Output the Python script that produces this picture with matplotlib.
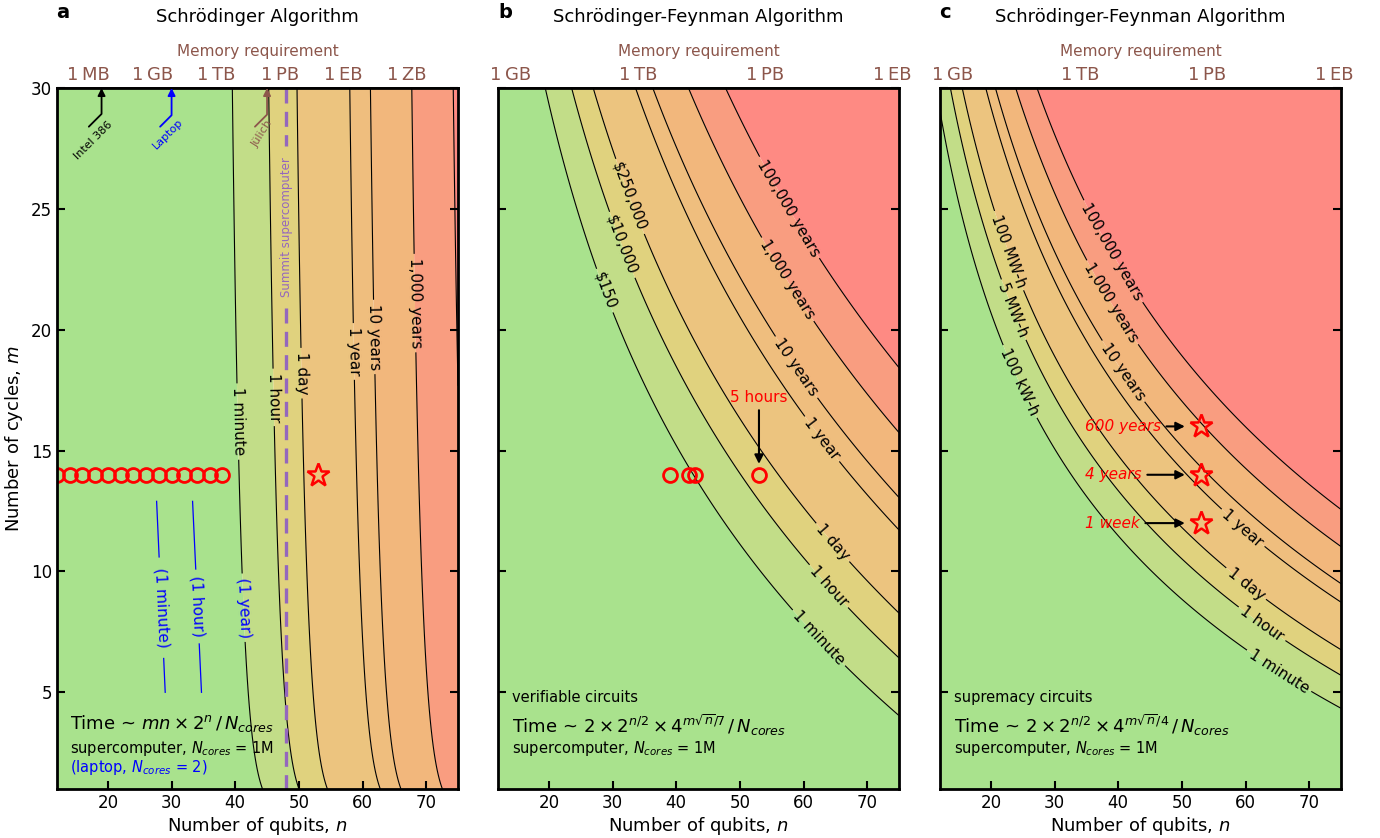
import numpy as np
import matplotlib
matplotlib.use("Agg")
import matplotlib.pyplot as plt

# ------------------------------------------------------------------ data
MINUTE, HOUR, DAY, YEAR = 60.0, 3600.0, 86400.0, 3.156e7
contour_times = [MINUTE, HOUR, DAY, YEAR, 10 * YEAR, 1e3 * YEAR, 1e5 * YEAR]
contour_labels = ["1 minute", "1 hour", "1 day", "1 year", "10 years",
                  "1,000 years", "100,000 years"]
band_colors = ["#a9e28d", "#c2dd88", "#e0d27e", "#ecc47f", "#efbe7e",
               "#f2b77c", "#f99d80", "#fe8a83"]

n_cores = 1e6
# seconds per elementary operation per core (calibrated from contour positions)
op_time_a = 6.3e-8
op_time_b = 1.52e-7
op_time_c = 3.4e-10

n_range = (12, 75)
m_range = (1, 30)

# memory axis (top)
mem_n_a = [17, 27, 37, 47, 57, 67]
mem_lab_a = ["1\u2009MB", "1\u2009GB", "1\u2009TB", "1\u2009PB", "1\u2009EB", "1\u2009ZB"]
mem_n_bc = [14, 34, 54, 74]
mem_lab_bc = ["1\u2009GB", "1\u2009TB", "1\u2009PB", "1\u2009EB"]

# contour label positions (n, m)
clab_a = [("1 minute", 40.3, 16.2), ("1 hour", 45.8, 17.2), ("1 day", 50.1, 18.2),
          ("1 year", 58.3, 19.1), ("10 years", 61.6, 19.7), ("1,000 years", 67.9, 21.1)]
clab_b = [("100,000 years", 57.4, 25.0), ("1,000 years", 57.0, 22.0),
          ("10 years", 58.6, 18.4), ("1 year", 63.0, 15.5), ("1 day", 64.6, 11.2),
          ("1 hour", 63.8, 9.35), ("1 minute", 62.2, 7.2)]
clab_c = [("100,000 years", 38.9, 23.2), ("1,000 years", 38.9, 21.1),
          ("10 years", 40.9, 18.3), ("1 year", 59.6, 11.8), ("1 day", 60.1, 9.5),
          ("1 hour", 62.5, 7.8), ("1 minute", 65.3, 5.9)]
cost_labels_b = [("$150", "1 minute", 28.6, 21.6), ("$10,000", "1 hour", 31.4, 23.5),
                 ("$250,000", "1 day", 32.6, 25.5)]
energy_labels_c = [("100 kW-h", "1 minute", 24.1, 17.8), ("5 MW-h", "1 hour", 23.3, 20.8),
                   ("100 MW-h", "1 day", 22.1, 23.2)]

# laptop (blue) lines in panel a
laptop_labels = ["(1 minute)", "(1 hour)"]
laptop_n_upper = [27.65, 33.3]
laptop_n_lower = [29.0, 34.7]
laptop_m_ends = [12.9, 5.0]
laptop_gap = [(10.6, 6.4), (10.1, 7.0)]
# laptop 1-year line coincides with the supercomputer 1-minute contour
laptop_year_label = ("(1 year)", "1 minute", 41.3, 8.5)

# hardware memory markers in panel a
hw_labels = ["Intel 386", "Laptop", "J\u00fclich"]
hw_tip_n = [19.0, 30.0, 45.0]
hw_tail_n = [17.0, 28.2, 43.1]
hw_tail_m = [28.4, 28.4, 28.4]
hw_text_n = [17.7, 29.4, 44.2]
hw_text_m = [27.85, 28.1, 28.1]
hw_rot = [45, 45, 58]
hw_colors = ["black", "blue", "#8c564b"]

summit_n = 48
summit_gap = (27.6, 20.9)

# experiments
circ_n_a = [12, 14, 16, 18, 20, 22, 24, 26, 28, 30, 32, 34, 36, 38]
circ_m_a = [14] * len(circ_n_a)
star_a = (53, 14)
circ_n_b = [39, 42, 43, 53]
circ_m_b = [14, 14, 14, 14]
star_n_c = [53, 53, 53]
star_m_c = [12, 14, 16]
star_lab_c = ["1 week", "4 years", "600 years"]
star_text_n_c = [43.4, 43.7, 46.7]

BROWN = "#8c564b"
PURPLE = "#9467bd"


def logT_a(n, m):
    return np.log10(m * n * 2.0 ** n / n_cores * op_time_a)


def logT_b(n, m):
    return np.log10(2 * 2.0 ** (n / 2) * 4.0 ** (m * np.sqrt(n) / 7) / n_cores * op_time_b)


def logT_c(n, m):
    return np.log10(2 * 2.0 ** (n / 2) * 4.0 ** (m * np.sqrt(n) / 4) / n_cores * op_time_c)


W, H = 1380, 838
fig = plt.figure(figsize=(W / 100, H / 100), dpi=100)
lefts = [57, 498, 940]
wpx, top, bot = 401, 88, 789
axes = [fig.add_axes([l / W, 1 - bot / H, wpx / W, (bot - top) / H]) for l in lefts]

nn = np.linspace(n_range[0], n_range[1], 600)
mm = np.linspace(m_range[0], m_range[1], 600)
NN, MM = np.meshgrid(nn, mm)
lv = np.log10(contour_times)


def add_label(ax, cs, txt, x, y, color=None):
    texts = ax.clabel(cs, fmt={cs.levels[0]: txt}, manual=[(x, y)],
                      fontsize=11, inline=True, inline_spacing=4)
    if color is not None:
        texts[-1].set_color(color)


def draw_field(ax, func, labels, extra):
    Z = func(NN, MM)
    ax.contourf(NN, MM, Z, levels=np.concatenate([[-100], lv, [100]]),
                colors=band_colors, antialiased=True)
    ax.set_xlim(*n_range)
    ax.set_ylim(*m_range)
    sets = []
    for v in lv:
        sets.append(ax.contour(NN, MM, Z, levels=[v], colors="k", linewidths=0.8))
    for lab, x, y in labels:
        add_label(ax, sets[contour_labels.index(lab)], lab, x, y)
    for txt, lab, x, y in extra:
        add_label(ax, sets[contour_labels.index(lab)], txt, x, y)
    return sets


def style_axes(ax, mem_n, mem_lab, show_y):
    ax.set_xticks([20, 30, 40, 50, 60, 70])
    ax.set_yticks([5, 10, 15, 20, 25, 30])
    ax.tick_params(direction="in", top=False, right=True, length=6, width=1.5,
                   labelsize=12, labelleft=show_y)
    for s in ax.spines.values():
        s.set_linewidth(2)
    ax.set_xlabel("Number of qubits, $n$", fontsize=13, labelpad=2)
    sec = ax.secondary_xaxis("top")
    sec.set_xticks(mem_n)
    sec.set_xticklabels(mem_lab)
    sec.tick_params(direction="in", length=6, width=1.5, labelsize=13,
                    labelcolor=BROWN, pad=3)
    sec.spines["top"].set_linewidth(2)
    sec.set_xlabel("Memory requirement", color=BROWN, fontsize=11, labelpad=7)


# ---------------- panel a
ax = axes[0]
sets_a = draw_field(ax, logT_a, clab_a, [])
style_axes(ax, mem_n_a, mem_lab_a, True)
ax.set_ylabel("Number of cycles, $m$", fontsize=13, labelpad=4)

# laptop lines
for lab, nu, nl, (g1, g2) in zip(laptop_labels, laptop_n_upper, laptop_n_lower, laptop_gap):
    m1, m2 = laptop_m_ends

    def n_at(m):
        return nu + (nl - nu) * (m1 - m) / (m1 - m2)

    ax.plot([n_at(m1), n_at(g1)], [m1, g1], color="blue", lw=0.9)
    ax.plot([n_at(g2), n_at(m2)], [g2, m2], color="blue", lw=0.9)
    p1 = ax.transData.transform((nu, m1))
    p2 = ax.transData.transform((nl, m2))
    ang = np.degrees(np.arctan2(p2[1] - p1[1], p2[0] - p1[0]))
    mc = (g1 + g2) / 2
    ax.text(n_at(mc), mc, lab, color="blue", fontsize=11, rotation=ang,
            rotation_mode="anchor", ha="center", va="center")
ly_txt, ly_lev, ly_n, ly_m = laptop_year_label
add_label(ax, sets_a[contour_labels.index(ly_lev)], ly_txt, ly_n, ly_m, color="blue")

# summit
ax.plot([summit_n, summit_n], [m_range[1], summit_gap[0]], color=PURPLE, lw=2.4,
        ls=(0, (4.5, 2.5)))
ax.plot([summit_n, summit_n], [summit_gap[1], m_range[0]], color=PURPLE, lw=2.4,
        ls=(0, (4.5, 2.5)))
ax.text(summit_n, (summit_gap[0] + summit_gap[1]) / 2, "Summit supercomputer",
        color=PURPLE, fontsize=8.5, rotation=90, ha="center", va="center")

# hardware arrows
for lab, tn, an, am, xn, xm, rot, col in zip(hw_labels, hw_tip_n, hw_tail_n, hw_tail_m,
                                              hw_text_n, hw_text_m, hw_rot, hw_colors):
    ax.annotate("", xy=(tn, m_range[1]), xytext=(an, am),
                arrowprops=dict(arrowstyle="-|>", color=col, lw=1.3, shrinkA=0, shrinkB=0,
                                mutation_scale=11,
                                connectionstyle="angle,angleA=45,angleB=90,rad=0"))
    ax.text(xn, xm, lab, color=col, fontsize=8, rotation=rot, ha="center", va="center",
            rotation_mode="anchor")

ax.plot(circ_n_a, circ_m_a, "o", mfc="none", mec="red", ms=10, mew=2)
ax.plot([star_a[0]], [star_a[1]], "*", mfc="none", mec="red", ms=17, mew=1.8)

ax.text(0.032, 0.094, r"Time ~ $mn \times 2^n\,/\,N_{cores}$", transform=ax.transAxes,
        fontsize=13, va="center")
ax.text(0.032, 0.058, r"supercomputer, $N_{cores}$ = 1M", transform=ax.transAxes,
        fontsize=10.5, va="center")
ax.text(0.032, 0.030, r"(laptop, $N_{cores}$ = 2)", transform=ax.transAxes,
        fontsize=10.5, va="center", color="blue")

# ---------------- panel b
ax = axes[1]
draw_field(ax, logT_b, clab_b, cost_labels_b)
style_axes(ax, mem_n_bc, mem_lab_bc, False)
ax.plot(circ_n_b, circ_m_b, "o", mfc="none", mec="red", ms=10, mew=2)
ax.annotate("5 hours", xy=(53, 14.45), xytext=(53, 16.9), ha="center", va="bottom",
            color="red", fontsize=11,
            arrowprops=dict(arrowstyle="-|>", color="k", lw=1.5, shrinkA=2, shrinkB=0,
                            mutation_scale=13))
ax.text(0.034, 0.131, "verifiable circuits", transform=ax.transAxes, fontsize=10.5,
        va="center")
ax.text(0.034, 0.091, r"Time ~ $2 \times 2^{n/2} \times 4^{m\sqrt{n}/7}\,/\,N_{cores}$",
        transform=ax.transAxes, fontsize=13, va="center")
ax.text(0.034, 0.058, r"supercomputer, $N_{cores}$ = 1M", transform=ax.transAxes,
        fontsize=10.5, va="center")

# ---------------- panel c
ax = axes[2]
draw_field(ax, logT_c, clab_c, energy_labels_c)
style_axes(ax, mem_n_bc, mem_lab_bc, False)
ax.plot(star_n_c, star_m_c, "*", mfc="none", mec="red", ms=17, mew=1.8)
for lab, m, tn in zip(star_lab_c, star_m_c, star_text_n_c):
    ax.annotate(lab, xy=(50.9, m), xytext=(tn, m), ha="right", va="center", color="red",
                style="italic", fontsize=11,
                arrowprops=dict(arrowstyle="-|>", color="k", lw=1.5, mutation_scale=13))
ax.text(0.034, 0.131, "supremacy circuits", transform=ax.transAxes, fontsize=10.5,
        va="center")
ax.text(0.034, 0.091, r"Time ~ $2 \times 2^{n/2} \times 4^{m\sqrt{n}/4}\,/\,N_{cores}$",
        transform=ax.transAxes, fontsize=13, va="center")
ax.text(0.034, 0.058, r"supercomputer, $N_{cores}$ = 1M", transform=ax.transAxes,
        fontsize=10.5, va="center")

# titles and panel letters
titles = ["Schr\u00f6dinger Algorithm", "Schr\u00f6dinger-Feynman Algorithm",
          "Schr\u00f6dinger-Feynman Algorithm"]
letters = ["a", "b", "c"]
letter_x = [63, 505, 945]
for l, t, lx, le in zip(lefts, titles, letter_x, letters):
    fig.text((l + wpx / 2) / W, 1 - 17 / H, t, ha="center", va="center", fontsize=13)
    fig.text(lx / W, 1 - 12 / H, le, ha="center", va="center", fontsize=14,
             fontweight="bold")

fig.savefig("out.png", dpi=100)
